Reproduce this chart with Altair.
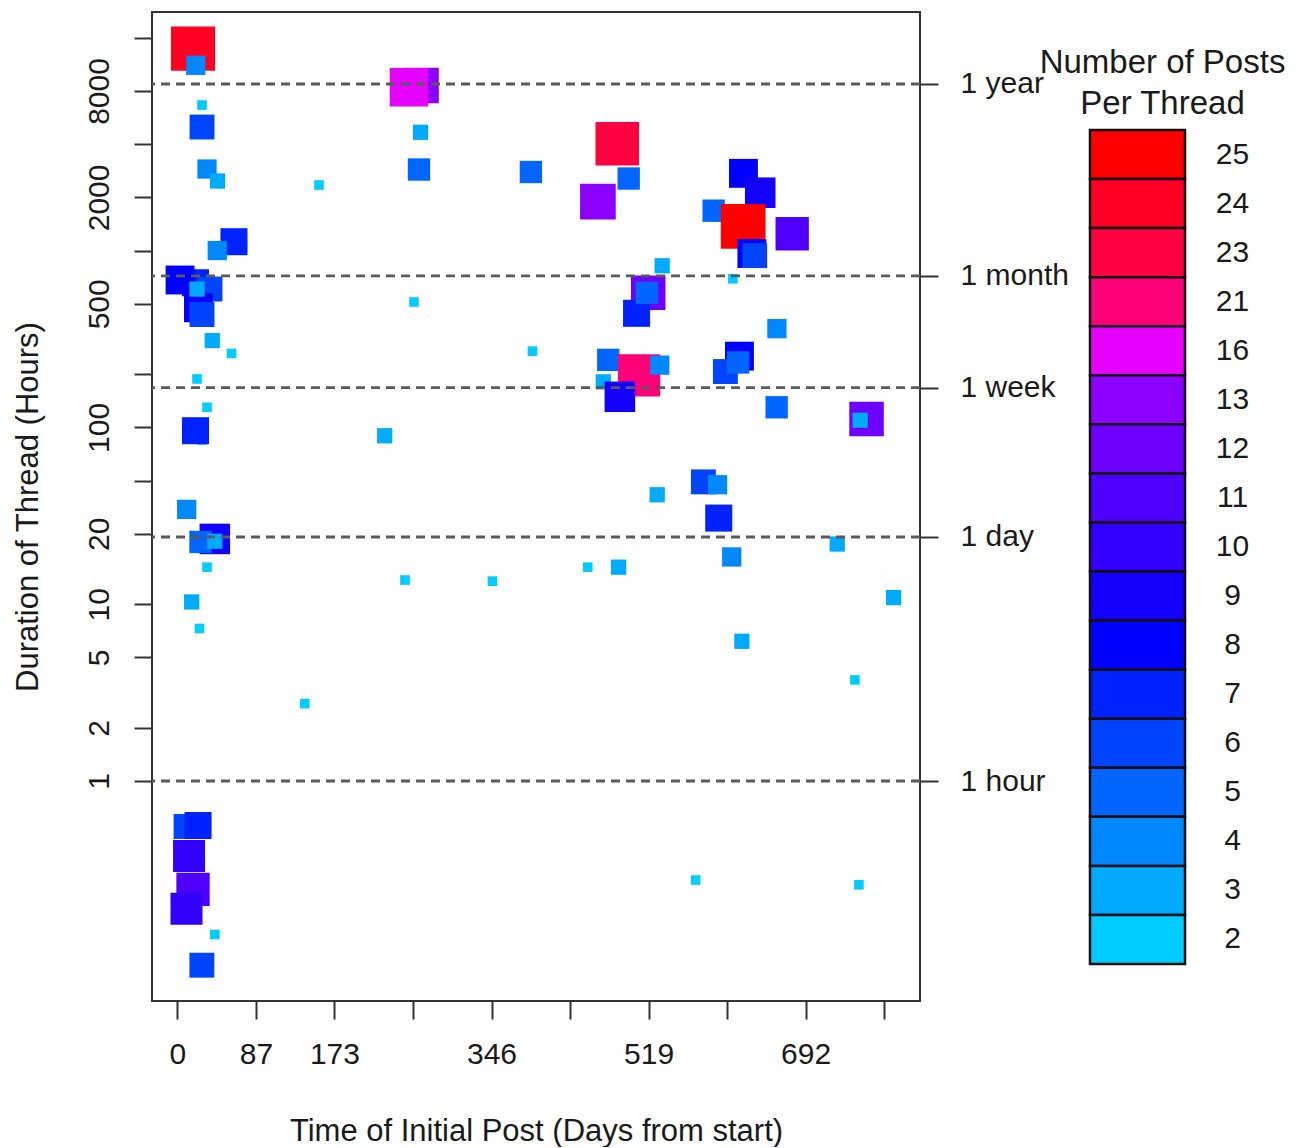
import math
import altair as alt
import pandas as pd

# ---------------- data ----------------
days = [268.3, 255.1, 17.2, 20.2, 27.1, 27.1, 32.6, 44.2, 155.9, 267.8,
        266.1, 389.4, 62.3, 43.9, 19.9, 2.9, 35.9, 23.2, 27.1, 21.6,
        38.4, 260.6, 484.5, 497.1, 463.2, 623.5, 642.0, 590.7, 623.2, 632.8,
        635.9, 677.2, 534.0, 611.9, 518.6, 505.8, 517.2, 660.4, 59.6, 391.1,
        21.6, 32.6, 27.1, 19.9, 228.3, 10.2, 41.2, 25.4, 41.2, 32.6,
        15.7, 24.3, 250.7, 347.0, 474.6, 508.6, 531.3, 469.1, 487.4, 619.1,
        603.6, 617.6, 660.1, 759.1, 752.1, 579.4, 595.0, 528.5, 596.3, 610.6,
        726.8, 452.0, 486.0, 788.9, 621.8, 140.3, 9.5, 22.7, 12.8, 17.2,
        10.0, 41.2, 26.9, 746.3, 570.9, 750.7]
hours = [8587, 8387, 13870, 11170, 6660, 5000, 2894, 2476, 2350, 4669,
         2875, 2784, 1123, 1001, 658, 682, 606, 475, 435, 606,
         310, 512, 4023, 2557, 1891, 2736, 2126, 1682, 1372, 963,
         937, 1246, 821, 693, 577, 442, 577, 362, 262, 270,
         188, 130, 84.9, 95.8, 89.7, 34.4, 23.4, 22.5, 22.7, 16.2,
         10.3, 7.29, 13.7, 13.5, 241, 197, 225, 181, 149, 253,
         207, 233, 130, 111.6, 109.8, 49.2, 47.4, 41.6, 30.7, 18.5,
         21.9, 16.2, 16.2, 10.9, 6.17, 2.74, 0.553, 0.560, 0.3765, 0.244,
         0.1893, 0.1354, 0.0908, 3.73, 0.2754, 0.2588]
posts = [13, 16, 24, 4, 2, 6, 4, 3, 2, 3,
         5, 5, 7, 4, 7, 8, 6, 8, 6, 3,
         3, 2, 23, 5, 13, 8, 9, 5, 25, 8,
         6, 11, 3, 2, 12, 7, 5, 4, 2, 2,
         2, 2, 2, 7, 3, 4, 9, 5, 3, 2,
         3, 2, 2, 2, 5, 21, 4, 3, 9, 8,
         6, 5, 5, 12, 3, 6, 4, 3, 7, 4,
         3, 2, 3, 3, 3, 2, 6, 7, 10, 11,
         10, 2, 6, 2, 2, 2]

levels = [25, 24, 23, 21, 16, 13, 12, 11, 10, 9, 8, 7, 6, 5, 4, 3, 2]
palette = ["#FF0000", "#FF0022", "#FF0040", "#FF0078", "#E600FF", "#8C00FF",
           "#6E00FF", "#5000FF", "#3200FF", "#1400FF", "#0000FF", "#0022FF",
           "#0044FF", "#0066FF", "#0088FF", "#00AAFF", "#00CCFF"]

x_ticks = [0, 86.5, 173, 259.5, 346, 432.5, 519, 605.5, 692, 778.5]
x_tick_labels = ["0", "87", "173", "", "346", "", "519", "", "692", ""]
y_ticks = [1, 2, 5, 10, 25, 50, 100, 200, 500, 1000, 2000, 4000, 8000, 16000]
y_tick_labels = ["1", "2", "5", "10", "20", "", "100", "", "500", "", "2000", "", "8000", ""]
ref_hours = [1, 24, 168, 720, 8760]
ref_labels = ["1 hour", "1 day", "1 week", "1 month", "1 year"]

# ---------------- helpers ----------------
FONT = "Liberation Sans"
TXT = "#1a1a1a"
XDOM = [-28, 818]
YDOM = [0.05697, 22370]


def label_expr(vals, labels):
    return ("[" + ",".join("'%s'" % l for l in labels) + "][indexof(["
            + ",".join(str(v) for v in vals) + "], datum.value)]")


df = pd.DataFrame({"days": days, "hours": hours, "posts": posts,
                   "idx": list(range(len(days)))})
ref_df = pd.DataFrame({"hours": ref_hours, "label": ref_labels})
leg_df = pd.DataFrame({"posts": levels})

xscale = alt.Scale(domain=XDOM, nice=False, zero=False)
yscale = alt.Scale(type="log", domain=YDOM, nice=False)
cscale = alt.Scale(domain=levels, range=palette)

points = alt.Chart(df).transform_calculate(
    lnsq="pow(log(datum.posts), 2)"
).mark_square(opacity=1, strokeWidth=0).encode(
    x=alt.X("days:Q", scale=xscale,
            axis=alt.Axis(values=x_ticks, labelExpr=label_expr(x_ticks, x_tick_labels),
                          title="Time of Initial Post (Days from start)",
                          tickSize=18, tickWidth=2, tickColor="#333", domain=False,
                          grid=False, labelFontSize=30, labelPadding=20,
                          titleFontSize=31, titlePadding=47, labelFlush=False,
                          labelOverlap=False)),
    y=alt.Y("hours:Q", scale=yscale,
            axis=alt.Axis(values=y_ticks, labelExpr=label_expr(y_ticks, y_tick_labels),
                          title="Duration of Thread (Hours)",
                          tickSize=18, tickWidth=2, tickColor="#333", domain=False,
                          grid=False, labelFontSize=30, labelPadding=20,
                          labelAngle=270, labelAlign="center", labelBaseline="bottom",
                          titleFontSize=31, titlePadding=40, labelFlush=False,
                          labelOverlap=False)),
    color=alt.Color("posts:O", scale=cscale, legend=None),
    size=alt.Size("lnsq:Q", scale=alt.Scale(domain=[0, math.log(25) ** 2],
                                            range=[0, (13.9 * math.log(25)) ** 2]),
                  legend=None),
    order=alt.Order("idx:Q"),
)

rules = alt.Chart(ref_df).mark_rule(strokeDash=[9, 6], color="#5a5a5a", strokeWidth=2.8).encode(
    y=alt.Y("hours:Q", scale=yscale,
            axis=alt.Axis(orient="right", values=ref_hours,
                          labelExpr=label_expr(ref_hours, ref_labels),
                          title=None, tickSize=18, tickWidth=2, tickColor="#333",
                          domain=False, grid=False, labelFontSize=30, labelPadding=22,
                          labelAlign="left", labelBaseline="middle", labelFlush=False,
                          labelOverlap=False))
)

main = alt.layer(points, rules).resolve_axis(y="independent").properties(
    width=768, height=989,
    view=alt.ViewBackground(stroke="#333333", strokeWidth=2),
)

# one empty band on top leaves room for the legend title
leg_domain = [""] + levels

legend = alt.Chart(leg_df).mark_rect(stroke="#111111", strokeWidth=2.5).encode(
    y=alt.Y("posts:O", sort=levels,
            scale=alt.Scale(type="band", domain=leg_domain, paddingInner=0,
                            paddingOuter=0.7025, align=1),
            axis=alt.Axis(orient="right", title=None, ticks=False, tickSize=0,
                          domain=False, labelFontSize=30, labelPadding=47,
                          labelAlign="center", labelBaseline="middle")),
    color=alt.Color("posts:O", scale=cscale, legend=None),
).properties(
    width=95, height=952,
    view=alt.ViewBackground(strokeWidth=0, stroke="transparent"),
    title=alt.TitleParams(["Number of Posts", "Per Thread"], fontSize=33,
                          fontWeight="normal", font=FONT, color=TXT,
                          anchor="middle", dx=25, offset=-109, lineHeight=41),
)

chart = alt.hconcat(main, legend, spacing=170, bounds="flush").properties(
    padding={"left": 10, "top": 11, "right": 0, "bottom": 0}
).configure(
    background="white",
).configure_view(
    strokeWidth=0,
).configure_axis(
    labelFont=FONT, titleFont=FONT, labelColor=TXT, titleColor=TXT,
    titleFontWeight="normal",
)

chart.save("out.html", embed_options={"renderer": "svg", "actions": False})
